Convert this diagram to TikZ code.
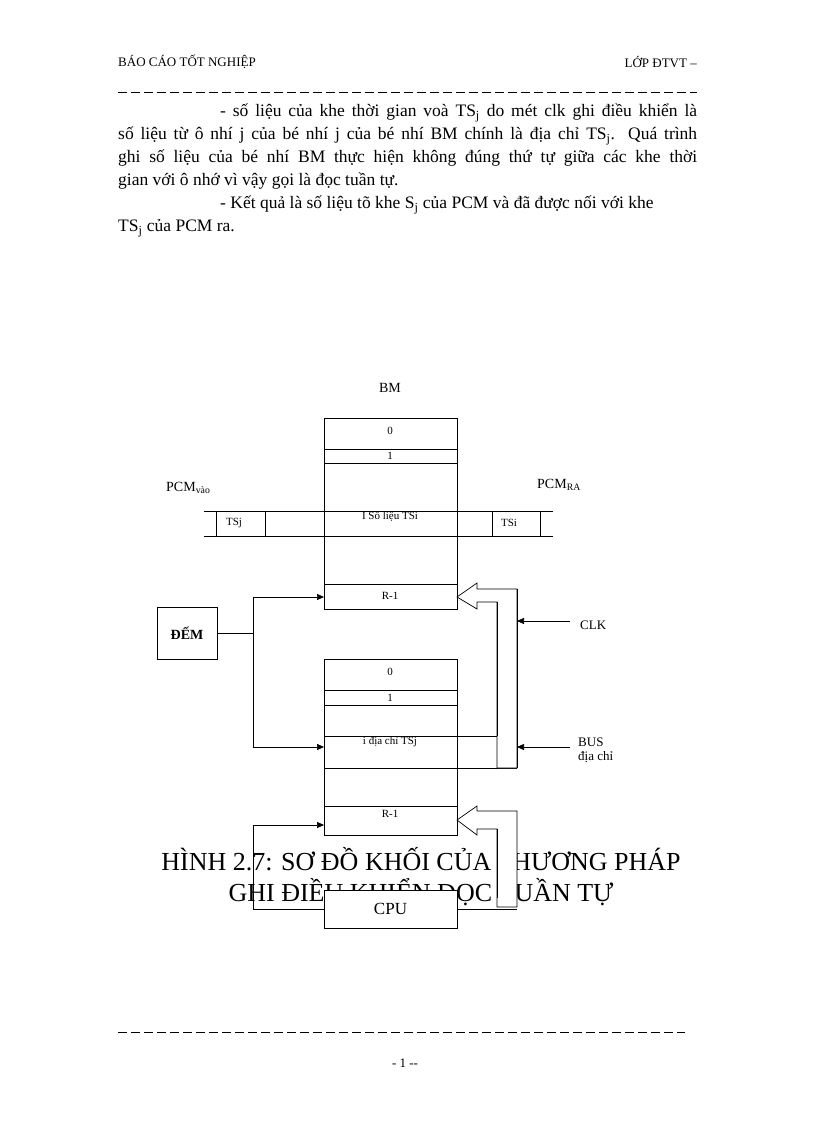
\documentclass[tikz,border=0pt]{standalone}
\usepackage{fontspec}
\setmainfont{Liberation Serif}
\usetikzlibrary{arrows.meta}
\begin{document}
\begin{tikzpicture}[x=1pt,y=-1pt,
  lbl/.style={font=\fontsize{11}{13}\selectfont,inner sep=0pt},
  ln/.style={draw=black,line width=0.7pt},
  arr/.style={ln,-{Triangle[length=7pt,width=6pt]}},
  wbox/.style={ln,fill=white}]
\useasboundingbox[fill=white] (0,0) rectangle (816,1123);
% header
\node[anchor=west,inner sep=0pt,font=\fontsize{13}{15}\selectfont] (h1) at (118,62) {BÁO CÁO TỐT NGHIỆP};
\node[anchor=east,inner sep=0pt,font=\fontsize{13}{15}\selectfont] (h2) at (697,62) {LỚP ĐTVT –};
\coordinate (d1) at (118,92); \coordinate (d2) at (697,92);
\draw[line width=0.8pt,dash pattern=on 9pt off 4pt] (d1) -- (d2);
\node[anchor=north west,inner sep=0pt,text width=579pt,align=justify,font=\fontsize{17.5}{23}\selectfont] (para) at (118,104) {%
\hspace*{102pt}- số liệu của khe thời gian voà TS\textsubscript{j} do mét clk ghi điều khiển là\linebreak
số liệu từ ô nhí j của bé nhí j của bé nhí BM chính là địa chỉ TS\textsubscript{j}. Quá trình\linebreak
ghi số liệu của bé nhí BM thực hiện không đúng thứ tự giữa các khe thời\linebreak
gian với ô nhớ vì vậy gọi là đọc tuần tự.\par
\hspace*{102pt}- Kết quả là số liệu tõ khe S\textsubscript{j} của PCM và đã được nối với khe\par
TS\textsubscript{j} của PCM ra.};
% caption (under diagram)
\node[inner sep=0pt,font=\fontsize{26}{31}\selectfont,align=center] (cap) at (421,877) {HÌNH 2.7: SƠ ĐỒ KHỐI CỦA PHƯƠNG PHÁP\\GHI ĐIỀU KHIỂN ĐỌC TUẦN TỰ};
% BM
\node[inner sep=0pt,font=\fontsize{14}{16}\selectfont] (bm) at (390,388) {BM};
\draw[wbox] (324,418) rectangle (457,609);
\draw[ln] (324,449) -- (457,449) (324,463) -- (457,463) (324,584) -- (457,584);
\node[lbl] (u0) at (390,431) {0};
\node[lbl] (u1) at (390,456) {1};
\node[lbl] (ur) at (390,596) {R-1};
% PCM lines
\draw[ln] (204,511) -- (553,511) (204,536) -- (553,536);
\draw[ln] (216,511) -- (216,536) (265,511) -- (265,536) (492,511) -- (492,536) (540,511) -- (540,536);
\node[lbl] (tsj) at (234,523) {TSj};
\node[lbl] (tsi) at (509,523) {TSi};
\node[lbl] (sl) at (390,516) {I Số liệu TSi};
\node[anchor=west,inner sep=0pt,font=\fontsize{14}{16}\selectfont] (pin) at (166,488) {PCM\textsubscript{vào}};
\node[anchor=west,inner sep=0pt,font=\fontsize{14}{16}\selectfont] (pout) at (537,485) {PCM\textsubscript{RA}};
% lower memory
\draw[wbox] (324,659) rectangle (457,835);
\draw[ln] (324,690) -- (457,690) (324,705) -- (457,705) (324,736) -- (497,736) (324,768) -- (517,768) (324,806) -- (457,806);
\node[lbl] (l0) at (390,672) {0};
\node[lbl] (l1) at (390,698) {1};
\node[lbl] (li) at (390,742) {i địa chỉ TSj};
\node[lbl] (lr) at (390,814) {R-1};
% upper hollow arrow
\draw[wbox] (457,597) -- (477,583) -- (477,589) -- (517,589) -- (517,768) -- (497,768) -- (497,602) -- (477,602) -- (477,609) -- cycle;
\draw[ln] (497,736) -- (497,602);
\fill[white] (498,737) rectangle (516,767);
\draw[ln] (517,589) -- (517,768);
% lower hollow arrow
\draw[wbox] (457,820) -- (477,806) -- (477,811) -- (517,811) -- (517,907) -- (497,907) -- (497,829) -- (477,829) -- (477,835) -- cycle;
\fill[white] (498,898) rectangle (516,906);
\draw[ln] (497,829) -- (497,898);
% CPU
\node[wbox,minimum width=133pt,minimum height=38pt,inner sep=0pt,font=\fontsize{17}{19}\selectfont] (cpu) at (390.5,909) {CPU};
\draw[ln] (cpu.east) -- (517,909);
\draw[arr] (cpu.west) -- (253,909) -- (253,825) -- (324,825);
% DEM
\node[ln,minimum width=60pt,minimum height=52pt,inner sep=0pt,font=\bfseries\fontsize{14}{16}\selectfont] (dem) at (187,633) {ĐẾM};
\draw[ln] (dem.east) -- (253,633);
\draw[arr] (253,633) -- (253,597) -- (324,597);
\draw[arr] (253,633) -- (253,747) -- (324,747);
% CLK / BUS
\coordinate (clk0) at (570,621);
\draw[arr] (clk0) -- (517,621);
\node[anchor=west,inner sep=0pt,font=\fontsize{13}{15}\selectfont] (clk) at (580,625) {CLK};
\coordinate (bus0) at (570,747);
\draw[arr] (bus0) -- (517,747);
\node[anchor=west,inner sep=0pt,font=\fontsize{13}{14}\selectfont,align=left] (bus) at (578,750) {BUS\\địa chỉ};
% footer
\coordinate (f1) at (118,1032); \coordinate (f2) at (685,1032);
\draw[line width=0.8pt,dash pattern=on 9pt off 4pt] (f1) -- (f2);
\node[inner sep=0pt,font=\fontsize{13}{15}\selectfont] (pg) at (405,1063) {- 1 -{}-};
\end{tikzpicture}
\end{document}
